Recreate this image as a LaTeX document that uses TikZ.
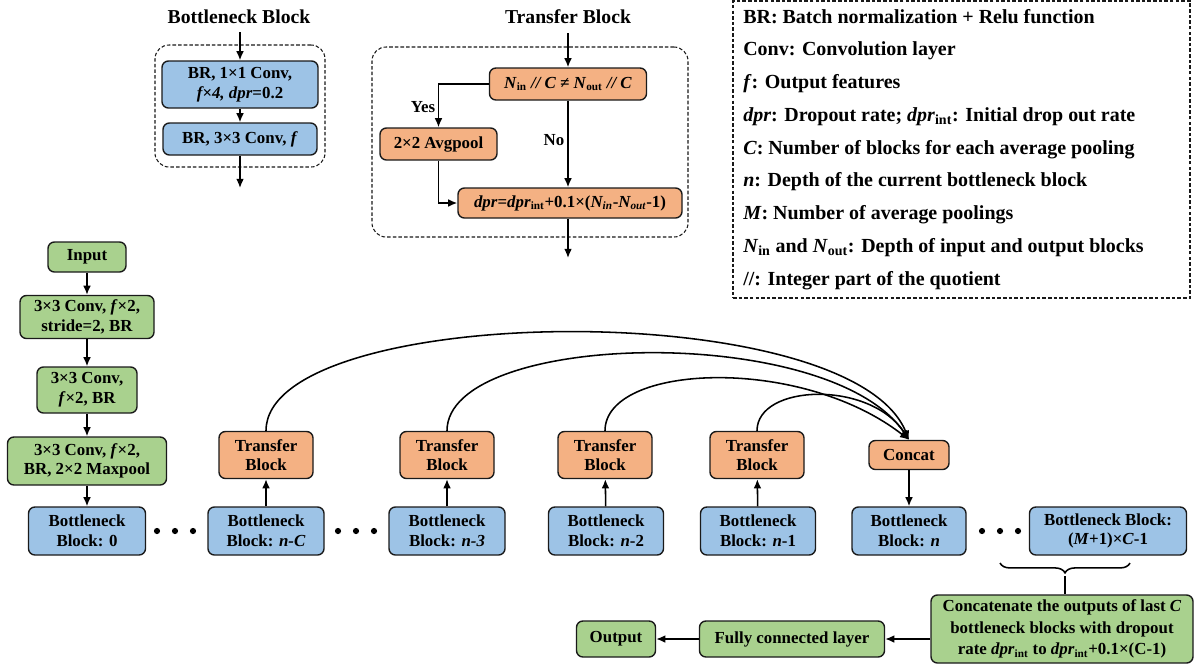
\documentclass[tikz,border=0pt]{standalone}
\usepackage{fontspec}
\setmainfont{Liberation Serif}
\usetikzlibrary{arrows.meta,decorations.pathreplacing,calc}
\definecolor{gfill}{HTML}{A9D18E}
\definecolor{bfill}{HTML}{9DC3E6}
\definecolor{ofill}{HTML}{F4B183}
\definecolor{edge}{HTML}{1A1A1A}
\tikzset{
 basebox/.style={draw=edge, line width=1pt, rounded corners=0.16cm, align=center, inner sep=1pt, font=\bfseries\fontsize{12}{14}\selectfont},
 gbox/.style={basebox, fill=gfill},
 bbox/.style={basebox, fill=bfill},
 obox/.style={basebox, fill=ofill},
 arr/.style={-{Latex[length=6.5pt,width=5.5pt]}, line width=1.1pt},
 wire/.style={line width=1.1pt},
 dbox/.style={draw=black!90, line width=0.75pt, dash pattern=on 2.5pt off 1.5pt, rounded corners=0.35cm},
 lbox/.style={draw=black!90, line width=0.75pt, dash pattern=on 2.5pt off 1.5pt},
 ttl/.style={font=\bfseries\fontsize{14}{16}\selectfont},
 lbl/.style={font=\bfseries\fontsize{12}{14}\selectfont},
 leg/.style={anchor=base west, font=\bfseries\fontsize{14.2}{16}\selectfont, inner sep=0pt},
 sz/.style 2 args={minimum width=#1*0.025cm, minimum height=#2*0.025cm}
}
\begin{document}
\begin{tikzpicture}[x=0.025cm, y=-0.025cm]
\useasboundingbox (0,0) rectangle (1196,667);

% ---------- Bottleneck block detail ----------
\node[ttl] (bbtitle) at (239,17) {Bottleneck Block};
\node[dbox, sz={170}{122}] (bbframe) at (240,106) {};
\node[bbox, sz={156}{47}] (bb1) at (240,84.5) {BR, 1×1 Conv,\\\textit{f×4, dpr}=0.2};
\node[bbox, sz={154}{32}] (bb2) at (240,139) {BR, 3×3 Conv, \textit{f}};
\coordinate (bbin) at (240,32);
\coordinate (bbout) at (240,188);
\draw[arr] (bbin) -- (bb1);
\draw[arr] (bb1) -- (bb2);
\draw[arr] (bb2) -- (bbout);

% ---------- Transfer block detail ----------
\node[ttl] (tbtitle) at (568,17) {Transfer Block};
\node[dbox, sz={316}{190}] (tbframe) at (530,142) {};
\node[obox, sz={157}{32}] (cond) at (568,84) {\textit{N}\textsubscript{in}\textit{ // C ≠ N}\textsubscript{out}\textit{ // C}};
\node[obox, sz={117}{32}] (avg) at (438.5,144) {2×2 Avgpool};
\node[obox, sz={224}{30}] (dprb) at (570,203) {\textit{dpr}=\textit{dpr}\textsubscript{int}+0.1×(\textit{N\textsubscript{in}}-\textit{N\textsubscript{out}}-1)};
\coordinate (tbin) at (568,33);
\coordinate (tbout) at (568,258);
\draw[arr] (tbin) -- (cond);
\draw[arr] (cond.south) -- (cond.south |- dprb.north);
\draw[arr] (cond.west) -| (avg.north);
\draw[arr] (avg.south) |- (dprb.west);
\draw[arr] (tbout |- dprb.south) -- (tbout);
\node[lbl] (yes) at (423,107) {Yes};
\node[lbl] (no) at (554,140) {No};

% ---------- Legend ----------
\node[lbox, sz={457}{297}] (legframe) at (961.5,149.5) {};
\node[leg] (l1) at (743,23) {BR: Batch normalization + Relu function};
\node[leg] (l2) at (743,55.75) {Conv: Convolution layer};
\node[leg] (l3) at (743,88.5) {\textit{f}: Output features};
\node[leg] (l4) at (743,121.25) {\textit{dpr}: Dropout rate; \textit{dpr}\textsubscript{int}: Initial drop out rate};
\node[leg] (l5) at (743,154) {\textit{C}: Number of blocks for each average pooling};
\node[leg] (l6) at (743,186.75) {\textit{n}: Depth of the current bottleneck block};
\node[leg] (l7) at (743,219.5) {\textit{M}: Number of average poolings};
\node[leg] (l8) at (743,252.25) {\textit{N}\textsubscript{in} and \textit{N}\textsubscript{out}: Depth of input and output blocks};
\node[leg] (l9) at (743,285) {//: Integer part of the quotient};

% ---------- Stem column ----------
\node[gbox, sz={78}{30}] (inp) at (87,257) {Input};
\node[gbox, sz={134}{43}] (c1) at (87,317) {3×3 Conv, \textit{f}×2,\\stride=2, BR};
\node[gbox, sz={100}{46}] (c2) at (87,390) {3×3 Conv,\\\textit{f}×2, BR};
\node[gbox, sz={159}{48}] (c3) at (87,461) {3×3 Conv, \textit{f}×2,\\BR, 2×2 Maxpool};
\node[bbox, sz={117}{48}] (b0) at (87,531) {Bottleneck\\Block: 0};
\draw[arr] (inp) -- (c1);
\draw[arr] (c1) -- (c2);
\draw[arr] (c2) -- (c3);
\draw[arr] (c3) -- (b0);

% ---------- Bottleneck row ----------
\node[bbox, sz={116}{48}] (bnc) at (266,531) {Bottleneck\\Block: \textit{n-C}};
\node[bbox, sz={116}{48}] (bn3) at (447,531) {Bottleneck\\Block: \textit{n-3}};
\node[bbox, sz={115}{48}] (bn2) at (606,531) {Bottleneck\\Block: \textit{n}-2};
\node[bbox, sz={115}{48}] (bn1) at (758,531) {Bottleneck\\Block: \textit{n}-1};
\node[bbox, sz={114}{48}] (bn) at (909,531) {Bottleneck\\Block: \textit{n}};
\node[bbox, sz={157}{48}] (blast) at (1108,531) {Bottleneck Block:\\(\textit{M}+1)×\textit{C}-1};

\foreach \dx in {157,175,193,338,356,374,982,1000,1018}
  \fill (\dx,531) circle (2.2pt);

% ---------- Transfer row ----------
\node[obox, sz={94}{47}] (t1) at (266,455) {Transfer\\Block};
\node[obox, sz={94}{47}] (t2) at (447,455) {Transfer\\Block};
\node[obox, sz={94}{47}] (t3) at (605,455) {Transfer\\Block};
\node[obox, sz={94}{47}] (t4) at (757,455) {Transfer\\Block};
\node[obox, sz={80}{29}] (cat) at (909,455) {Concat};
\draw[arr] (bnc) -- (t1);
\draw[arr] (bn3) -- (t2);
\draw[arr] (bn2) -- (t3);
\draw[arr] (bn1) -- (t4);
\draw[arr] (cat) -- (bn);

\draw[arr] (t1.north) .. controls +(0,-128) and +(-59,-146) .. (cat.north);
\draw[arr] (t2.north) .. controls +(0,-100) and +(-79,-118) .. (cat.north);
\draw[arr] (t3.north) .. controls +(0,-67) and +(-109,-85) .. (cat.north);
\draw[arr] (t4.north) .. controls +(0,-47) and +(-39,-60) .. (cat.north);

% ---------- Output path ----------
\draw[wire, decorate, decoration={brace, mirror, amplitude=7pt}] (1000,563) -- (1130,563);
\coordinate (bt) at (1065,576);
\node[gbox, sz={262}{68}, font=\bfseries\fontsize{12}{15.5}\selectfont] (fcat) at (1062,629) {Concatenate the outputs of last \textit{C}\\bottleneck blocks with dropout\\rate \textit{dpr}\textsubscript{int} to \textit{dpr}\textsubscript{int}+0.1×(C-1)};
\node[gbox, sz={185}{36}] (fc) at (792,639) {Fully connected layer};
\node[gbox, sz={79}{36}] (out) at (616,639) {Output};
\draw[wire] (bt) -- (bt |- fcat.north);
\draw[arr] (fc.east -| fcat.west) -- (fc.east);
\draw[arr] (fc) -- (out);
\end{tikzpicture}
\end{document}
